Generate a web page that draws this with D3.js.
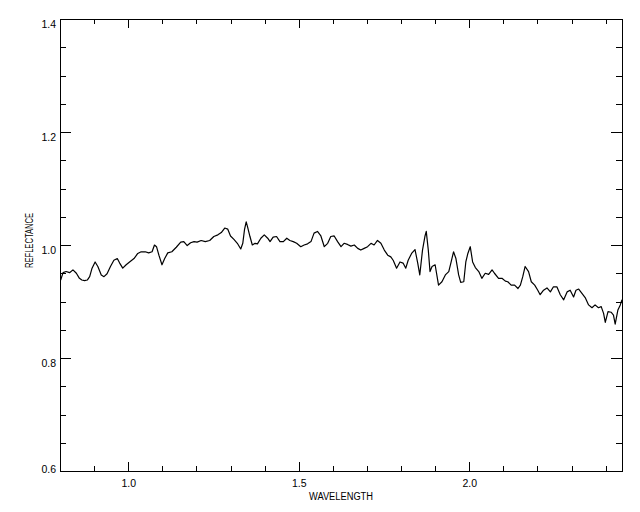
<!DOCTYPE html>
<html>
<head>
<meta charset="utf-8">
<script src="https://cdn.jsdelivr.net/npm/d3@7"></script>
<style>
  html, body { margin: 0; padding: 0; background: #fff; }
  svg { display: block; }
  text { font-family: "Liberation Sans", Arial, Helvetica, sans-serif; fill: #000; }
</style>
</head>
<body>
<script>
// ---- data ----
const wavelength = [
  0.802,0.809,0.818,0.828,0.838,0.848,0.857,0.864,0.872,0.880,
  0.887,0.894,0.903,0.911,0.921,0.929,0.938,0.948,0.958,0.968,
  0.975,0.984,0.994,1.004,1.017,1.028,1.038,1.050,1.060,1.070,
  1.077,1.083,1.090,1.099,1.107,1.116,1.128,1.141,1.154,1.163,
  1.173,1.183,1.193,1.202,1.214,1.226,1.239,1.251,1.263,1.273,
  1.283,1.292,1.300,1.310,1.320,1.330,1.336,1.341,1.346,1.350,
  1.357,1.364,1.372,1.379,1.389,1.399,1.409,1.416,1.425,1.435,
  1.445,1.455,1.465,1.474,1.484,1.494,1.506,1.516,1.526,1.536,
  1.545,1.555,1.565,1.575,1.585,1.594,1.604,1.614,1.624,1.633,
  1.643,1.653,1.663,1.673,1.682,1.692,1.702,1.712,1.721,1.731,
  1.741,1.751,1.761,1.770,1.777,1.787,1.797,1.806,1.814,1.821,
  1.831,1.841,1.849,1.855,1.863,1.870,1.874,1.880,1.885,1.891,
  1.900,1.910,1.920,1.930,1.940,1.947,1.954,1.961,1.969,1.975,
  1.984,1.990,1.996,2.003,2.010,2.018,2.028,2.037,2.047,2.057,
  2.067,2.074,2.086,2.096,2.106,2.113,2.123,2.133,2.143,2.150,
  2.157,2.164,2.174,2.182,2.192,2.201,2.208,2.218,2.228,2.238,
  2.247,2.257,2.267,2.277,2.287,2.296,2.306,2.313,2.321,2.330,
  2.340,2.350,2.360,2.369,2.379,2.387,2.394,2.399,2.407,2.416,
  2.423,2.428,2.436,2.443,2.448
];
const reflectance = [
  0.938,0.951,0.953,0.951,0.956,0.950,0.941,0.938,0.937,0.938,
  0.944,0.959,0.970,0.962,0.947,0.944,0.949,0.962,0.973,0.976,
  0.968,0.959,0.965,0.970,0.976,0.985,0.988,0.988,0.986,0.988,
  1.000,0.997,0.982,0.965,0.976,0.986,0.988,0.996,1.005,1.006,
  0.999,1.004,1.006,1.005,1.008,1.006,1.008,1.015,1.018,1.022,
  1.030,1.028,1.016,1.010,1.003,0.993,1.003,1.027,1.041,1.032,
  1.015,1.000,1.003,1.002,1.012,1.018,1.012,1.006,1.014,1.015,
  1.006,1.006,1.012,1.008,1.006,1.003,0.997,1.000,1.002,1.006,
  1.021,1.024,1.016,0.997,1.003,1.015,1.016,1.006,0.997,1.003,
  1.001,0.998,1.000,0.994,0.991,0.994,0.997,1.003,1.000,1.008,
  1.003,0.991,0.982,0.979,0.973,0.959,0.970,0.968,0.959,0.973,
  0.985,0.992,0.968,0.947,0.991,1.015,1.024,0.991,0.953,0.962,
  0.965,0.929,0.935,0.947,0.953,0.970,0.988,0.976,0.947,0.934,
  0.935,0.970,0.985,0.997,0.970,0.960,0.953,0.941,0.950,0.948,
  0.956,0.950,0.941,0.941,0.936,0.935,0.929,0.929,0.923,0.929,
  0.944,0.962,0.953,0.935,0.929,0.920,0.912,0.920,0.924,0.917,
  0.926,0.926,0.912,0.903,0.917,0.920,0.908,0.920,0.922,0.915,
  0.907,0.894,0.889,0.894,0.889,0.891,0.879,0.863,0.882,0.881,
  0.876,0.860,0.885,0.894,0.903
];
const xDomain = [0.8, 2.448];
const yDomain = [0.6, 1.4];
const xMajorTicks = [1.0, 1.5, 2.0];
const xTickLabels = ["1.0", "1.5", "2.0"];
const xMinorTicks = [0.9,1.1,1.2,1.3,1.4,1.6,1.7,1.8,1.9,2.1,2.2,2.3,2.4];
const yMajorTicks = [0.6, 0.8, 1.0, 1.2, 1.4];
const yTickLabels = ["0.6", "0.8", "1.0", "1.2", "1.4"];
const yMinorTicks = [0.65,0.7,0.75,0.85,0.9,0.95,1.05,1.1,1.15,1.25,1.3,1.35];
const xTitle = "WAVELENGTH";
const yTitle = "REFLECTANCE";

// ---- layout ----
const W = 640, H = 512;
const L = 60, R = 622, T = 19, B = 471;

const svg = d3.select("body").append("svg").attr("width", W).attr("height", H);

const x = d3.scaleLinear().domain(xDomain).range([L, R]);
const y = d3.scaleLinear().domain(yDomain).range([B, T]);

function styleAxis(g) {
  g.select(".domain").remove();
  g.selectAll(".tick line").attr("stroke", "#000").attr("stroke-width", 1).attr("shape-rendering", "crispEdges");
  g.selectAll(".tick text").attr("font-size", 10.5).attr("fill", "#000")
    .attr("font-family", "\"Liberation Sans\", Arial, sans-serif");
}

// bottom axis (major with labels)
svg.append("g").attr("transform", `translate(0,${B})`)
  .call(d3.axisBottom(x).tickValues(xMajorTicks).tickSize(-9).tickPadding(9)
    .tickFormat((d, i) => xTickLabels[i]))
  .call(styleAxis);
// bottom minor
svg.append("g").attr("transform", `translate(0,${B})`)
  .call(d3.axisBottom(x).tickValues(xMinorTicks).tickSize(-5).tickFormat(""))
  .call(styleAxis);
// top axis
svg.append("g").attr("transform", `translate(0,${T})`)
  .call(d3.axisTop(x).tickValues(xMajorTicks).tickSize(-9).tickFormat(""))
  .call(styleAxis);
svg.append("g").attr("transform", `translate(0,${T})`)
  .call(d3.axisTop(x).tickValues(xMinorTicks).tickSize(-5).tickFormat(""))
  .call(styleAxis);

// left axis
const leftG = svg.append("g").attr("transform", `translate(${L},0)`)
  .call(d3.axisLeft(y).tickValues(yMajorTicks).tickSize(-11).tickPadding(4)
    .tickFormat((d, i) => yTickLabels[i]))
  .call(styleAxis);
leftG.selectAll(".tick text").attr("dy", d => d === yDomain[0] ? "0.1em" : "0.78em");
svg.append("g").attr("transform", `translate(${L},0)`)
  .call(d3.axisLeft(y).tickValues(yMinorTicks).tickSize(-6).tickFormat(""))
  .call(styleAxis);
// right axis
svg.append("g").attr("transform", `translate(${R},0)`)
  .call(d3.axisRight(y).tickValues(yMajorTicks).tickSize(-11).tickFormat(""))
  .call(styleAxis);
svg.append("g").attr("transform", `translate(${R},0)`)
  .call(d3.axisRight(y).tickValues(yMinorTicks).tickSize(-6).tickFormat(""))
  .call(styleAxis);

// frame
svg.append("rect")
  .attr("x", L + 0.5).attr("y", T + 0.5)
  .attr("width", R - L).attr("height", B - T)
  .attr("fill", "none").attr("stroke", "#000").attr("stroke-width", 1)
  .attr("shape-rendering", "crispEdges");

// spectrum line
const pts = wavelength.map((w, i) => [w, reflectance[i]]);
svg.append("path")
  .datum(pts)
  .attr("fill", "none")
  .attr("stroke", "#000")
  .attr("stroke-width", 1.2)
  .attr("stroke-linejoin", "round")
  .attr("d", d3.line().x(d => x(d[0])).y(d => y(d[1])));

// titles
svg.append("text")
  .attr("x", (L + R) / 2).attr("y", 500)
  .attr("text-anchor", "middle").attr("font-size", 10)
  .attr("textLength", 64).attr("lengthAdjust", "spacingAndGlyphs")
  .text(xTitle);
svg.append("text")
  .attr("transform", `translate(33,240.5) rotate(-90)`)
  .attr("text-anchor", "middle").attr("font-size", 10)
  .attr("textLength", 55).attr("lengthAdjust", "spacingAndGlyphs")
  .text(yTitle);
</script>
</body>
</html>
